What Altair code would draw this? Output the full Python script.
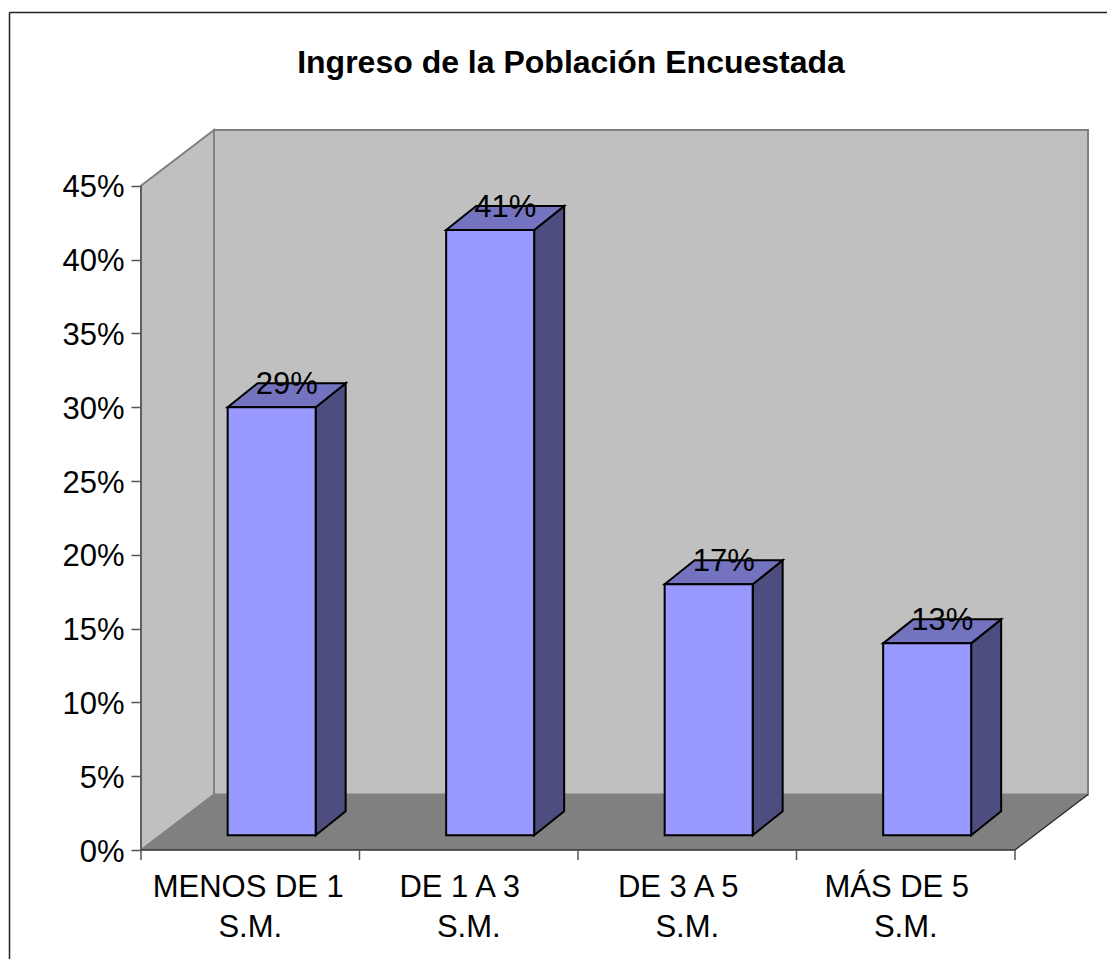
import altair as alt
import pandas as pd

line_1 = ["MENOS DE 1", "DE 1 A 3", "DE 3 A 5", "MÁS DE 5"]
line_2 = ["S.M.", "S.M.", "S.M.", "S.M."]
values = [29, 41, 17, 13]
y_ticks = [0, 5, 10, 15, 20, 25, 30, 35, 40, 45]
x_ticks = [0, 1, 2, 3, 4]
title = "Ingreso de la Población Encuestada"

FONT = "Liberation Sans"
FS = 31
W, H = 947, 720
XMAX, YMAX = 947 / 218.5, 720 / 14.76
XS = alt.Scale(domain=[0, XMAX], nice=False, zero=False)
YS = alt.Scale(domain=[0, YMAX], nice=False, zero=False)
DX, DY = 73 / 218.5, 55.5 / 14.76      # depth of the box
BW = 88 / 218.5                         # bar width
BDX, BDY = 30 / 218.5, 24 / 14.76       # bar depth
BASE = 1.0                              # bar floor height
SHIFT = 0.098                           # bar centre shift

x_q = lambda f="x", **k: alt.X(f"{f}:Q", scale=XS, **k)
y_q = lambda f="y", **k: alt.Y(f"{f}:Q", scale=YS, **k)

# ---- walls and floor
back = alt.Chart(pd.DataFrame([{"x": DX, "x2": XMAX, "y": DY, "y2": YMAX}])).mark_rect(
    color="#C0C0C0", stroke="#808080", strokeWidth=2
).encode(
    x=alt.X("x:Q", scale=XS, title=None, axis=None),
    x2="x2:Q",
    y=alt.Y("y:Q", scale=YS, title=None, axis=alt.Axis(
        values=y_ticks, domain=False, grid=False, tickSize=10, tickColor="#555555", tickWidth=1.5,
        labelFont=FONT, labelFontSize=FS, labelColor="black", labelPadding=7, labelOffset=2,
        labelExpr="datum.value+'%'")),
    y2="y2:Q",
)

left_wall = alt.Chart(pd.DataFrame([
    {"x": 0, "y": 0, "y2": 45}, {"x": DX, "y": DY, "y2": YMAX}
])).mark_area(color="#C0C0C0", stroke="#808080", strokeWidth=2).encode(
    x=x_q(), y=y_q(), y2="y2:Q")

floor = alt.Chart(pd.DataFrame([
    {"y": 0, "x": 0, "x2": 4}, {"y": DY, "x": DX, "x2": 4 + DX}
])).mark_area(color="#808080", orient="horizontal").encode(
    x=x_q(), x2="x2:Q", y=y_q())

diag = alt.Chart(pd.DataFrame([{"x": 4, "y": 0}, {"x": 4 + DX, "y": DY}])).mark_line(
    color="#222222", strokeWidth=1.2).encode(x=x_q(), y=y_q())

axis_y = alt.Chart(pd.DataFrame([{"x": 0, "y": 0, "y2": 45}])).mark_rule(
    color="#555555", strokeWidth=1.5).encode(x=x_q(), y=y_q(), y2="y2:Q")
axis_x = alt.Chart(pd.DataFrame([{"x": 0, "x2": 4, "y": 0}])).mark_rule(
    color="#333333", strokeWidth=1.5).encode(x=x_q(), x2="x2:Q", y=y_q())
x_tick = alt.Chart(pd.DataFrame({"x": x_ticks, "y": [0] * len(x_ticks)})).mark_rule(
    color="#555555", strokeWidth=1.5).encode(x=x_q(), y=y_q(), y2=alt.value(H + 10))

# ---- category labels (two lines, the first sits a little left of centre)
cat = pd.DataFrame({"x": [i + 0.5 for i in range(4)], "l1": line_1, "l2": line_2,
                    "x1": [0.5 - 2 / 218.5, 1.5 - 9 / 218.5, 2.5 - 9 / 218.5, 3.5 - 9 / 218.5]})
cat1 = alt.Chart(cat).mark_text(font=FONT, fontSize=FS, color="black", baseline="alphabetic").encode(
    x=x_q("x1"), y=alt.value(H + 47), text="l1:N")
cat2 = alt.Chart(cat).mark_text(font=FONT, fontSize=FS, color="black", baseline="alphabetic").encode(
    x=x_q("x"), y=alt.value(H + 87), text="l2:N")

# ---- bars
front, side, top, lab = [], [], [], []
for i, v in enumerate(values):
    c = line_1[i]
    cx = i + 0.5 + SHIFT
    x0, x1 = cx - BW / 2, cx + BW / 2
    t = BASE + v
    front.append({"c": c, "x": x0, "x2": x1, "y": BASE, "y2": t})
    side += [{"c": c, "x": x1, "y": BASE, "y2": t},
             {"c": c, "x": x1 + BDX, "y": BASE + BDY, "y2": t + BDY}]
    top += [{"c": c, "y": t, "x": x0, "x2": x1},
            {"c": c, "y": t + BDY, "x": x0 + BDX, "x2": x1 + BDX}]
    lab.append({"x": cx + BDX / 2, "y": t + BDY, "t": f"{v}%"})

f_bar = alt.Chart(pd.DataFrame(front)).mark_rect(
    color="#9999FF", stroke="black", strokeWidth=2
).encode(x=x_q(), x2="x2:Q", y=y_q(), y2="y2:Q")
s_bar = alt.Chart(pd.DataFrame(side)).mark_area(
    color="#4D4D80", stroke="black", strokeWidth=2
).encode(x=x_q(), y=y_q(), y2="y2:Q", detail="c:N")
t_bar = alt.Chart(pd.DataFrame(top)).mark_area(
    color="#7373BF", stroke="black", strokeWidth=2, orient="horizontal"
).encode(x=x_q(), x2="x2:Q", y=y_q(), detail="c:N")
labels = alt.Chart(pd.DataFrame(lab)).mark_text(
    font=FONT, fontSize=FS, color="black", baseline="middle", dy=2
).encode(x=x_q(), y=y_q(), text="t:N")

# ---- title and outer frame (left and top edges)
head = alt.Chart(pd.DataFrame({"t": [title]})).mark_text(
    font=FONT, fontSize=32, fontWeight="bold", color="black", baseline="alphabetic"
).encode(text="t:N", x=alt.value(571 - 141), y=alt.value(73 - 130))
frame_l = alt.Chart(pd.DataFrame({"a": [0]})).mark_rule(color="#222222", strokeWidth=1.5).encode(
    x=alt.value(-131.5), y=alt.value(-117.5), y2=alt.value(H + 120))
frame_t = alt.Chart(pd.DataFrame({"a": [0]})).mark_rule(color="#222222", strokeWidth=1.5).encode(
    x=alt.value(-131.5), x2=alt.value(W + 27), y=alt.value(-117.5))

chart = alt.layer(
    back, left_wall, floor, diag, axis_y, axis_x, x_tick, cat1, cat2,
    s_bar, t_bar, f_bar, labels, head, frame_l, frame_t
).properties(
    width=W, height=H,
    padding={"left": 133, "top": 122, "right": 19, "bottom": 109},
    autosize="none", background="white",
).configure_view(stroke=None)

chart.save("out.html", embed_options={"renderer": "svg", "actions": False})
